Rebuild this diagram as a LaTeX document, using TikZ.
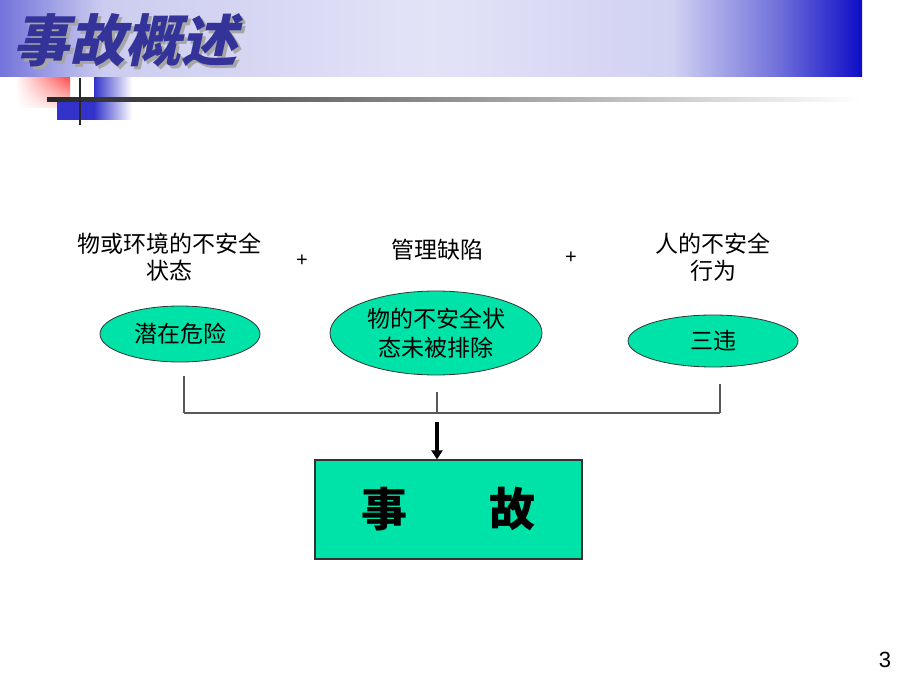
\documentclass[tikz,border=0pt]{standalone}
\usepackage{fontspec}
\setmainfont{Liberation Sans}
\newfontfamily\cjk{Noto Sans CJK SC}
\newfontfamily\titlefont[FakeSlant=0.22]{Noto Sans CJK SC}
\usetikzlibrary{shapes,shadings,arrows.meta,positioning,calc}
\definecolor{mint}{HTML}{00E3A8}
\definecolor{titleblue}{HTML}{333399}
\definecolor{decoblue}{HTML}{3333CC}
\definecolor{linegray}{HTML}{595959}
\pgfdeclarehorizontalshading{banner}{100bp}{rgb(0bp)=(0.45,0.45,0.86); rgb(25bp)=(0.45,0.45,0.86); rgb(31bp)=(0.80,0.80,0.94); rgb(50bp)=(0.89,0.89,0.97); rgb(64bp)=(0.82,0.82,0.95); rgb(70bp)=(0.45,0.45,0.86); rgb(75bp)=(0.05,0.05,0.78); rgb(100bp)=(0.05,0.05,0.78)}

\begin{document}
\begin{tikzpicture}[x=1pt,y=-1pt,
    lbl/.style={font=\cjk\fontsize{23}{27}\selectfont, align=center},
    oval/.style={ellipse, draw=black!80, line width=0.8pt, fill=mint, inner sep=0pt,
                 font=\cjk\fontsize{23}{29}\selectfont, align=center},
    conn/.style={draw=linegray, line width=1.6pt}]
  \useasboundingbox (0,0) rectangle (920,690);
  %title bar
  \shade[shading=banner] (0,0) rectangle (862,77);
  \node[anchor=west, text=black!35] (titleshadow) at (13,43)
    {\titlefont\bfseries\fontsize{56}{60}\selectfont 事故概述};
  \node[anchor=west, text=titleblue] (title) at (10,40)
    {\titlefont\bfseries\fontsize{56}{60}\selectfont 事故概述};
  %corner marks
  \shade[shading=bilinear interpolation, upper left=white, lower left=white,
         upper right=red!70, lower right=red!12] (15,78) rectangle (70,108);
  \fill[decoblue] (57,100) rectangle (94,120);
  \shade[left color=decoblue, right color=white] (94,78) rectangle (132,120);
  \shade[left color=black!85, right color=white] (47,98) rectangle (860,102);
  \draw[line width=2pt, black!85] (80,78) -- (80,125);
  %causes
  \node[lbl] (cond1) at (169,257) {物或环境的不安全\\状态};
  \node[font=\fontsize{20}{24}\selectfont] (plus1) at (302,261) {+};
  \node[lbl] (cond2) at (437,250) {管理缺陷};
  \node[font=\fontsize{20}{24}\selectfont] (plus2) at (571,258) {+};
  \node[lbl] (cond3) at (713,257) {人的不安全\\行为};
  %ellipses
  \node[oval, minimum width=160pt, minimum height=56pt] (risk) at (180,334) {潜在危险};
  \node[oval, minimum width=212pt, minimum height=84pt] (hazard) at (436,333) {物的不安全状\\态未被排除};
  \node[oval, minimum width=170pt, minimum height=52pt] (viol) at (713,341) {三违};
  %joining lines
  \coordinate (j1) at (184,413);
  \coordinate (hub) at (437,413);
  \coordinate (j3) at (720,413);
  \draw[conn, shorten <=14pt] (j1 |- risk.south) -- (j1);
  \draw[conn, shorten <=17pt] (hub |- hazard.south) -- (hub);
  \draw[conn, shorten <=17pt] (j3 |- viol.south) -- (j3);
  \draw[conn] (j1) -- (j3);
  %result
  \node[draw=black!80, line width=1.2pt, fill=mint, minimum width=267pt, minimum height=99pt,
        font=\cjk\bfseries\fontsize{46}{50}\selectfont] (accident) at (448.5,509.5)
        {事\hspace{82pt}故};
  \draw[line width=3.5pt, -{Triangle[length=9pt, width=11pt]}, shorten <=9pt] (hub) -- (hub |- accident.north);
  \node[font=\fontsize{22}{26}\selectfont] (page) at (885,660) {3};
\end{tikzpicture}
\end{document}
